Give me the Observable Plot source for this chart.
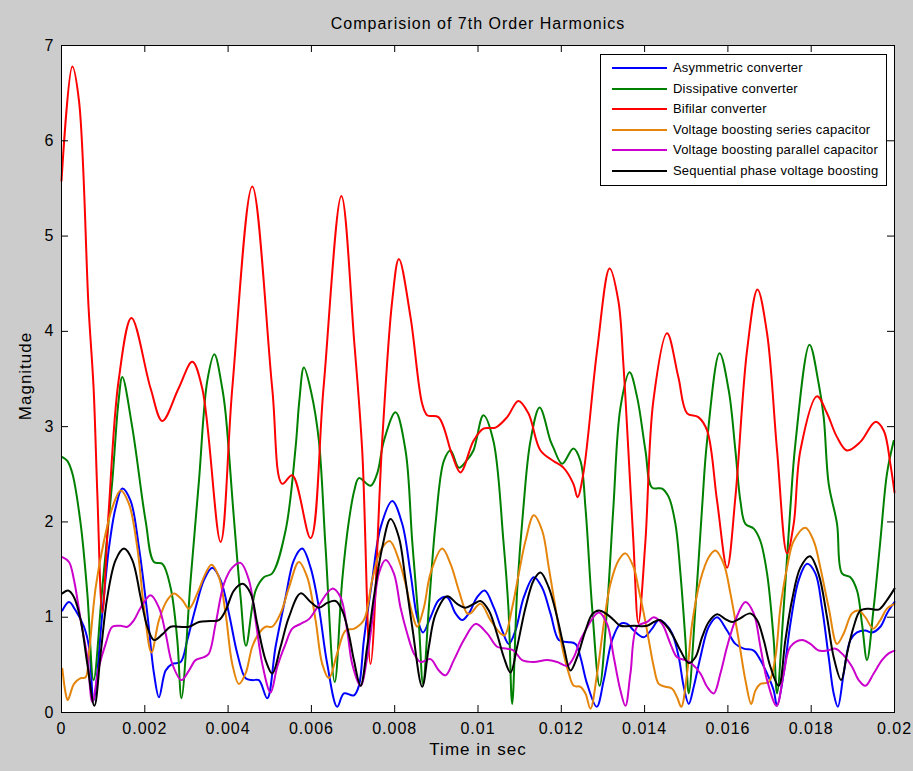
<!DOCTYPE html>
<html>
<head>
<meta charset="utf-8">
<script src="https://cdn.jsdelivr.net/npm/d3@7"></script>
<script src="https://cdn.jsdelivr.net/npm/@observablehq/plot@0.6"></script>
<style>
  html, body { margin: 0; padding: 0; background: #cccccc; }
  #wrap { position: relative; width: 913px; height: 771px; overflow: hidden; }
  #legend { position: absolute; left: 600px; top: 54px; width: 285px; height: 130px;
    background: #fff; border: 1px solid #000; font-family: "Liberation Sans", Arial, sans-serif; font-size: 13px; letter-spacing: 0.2px; }
  .row { position: absolute; left: 0; height: 20px; }
  .sw { position: absolute; left: 11px; width: 55px; height: 2px; top: 9px; }
  .lb { position: absolute; left: 72px; top: 2px; white-space: nowrap; color: #000; }
</style>
</head>
<body>
<div id="wrap"><div id="chart"></div><div id="legend"></div></div>
<script>
// Series names and colours
const seriesNames = ["Asymmetric converter", "Dissipative converter", "Bifilar converter",
  "Voltage boosting series capacitor", "Voltage boosting parallel capacitor", "Sequential phase voltage boosting"];
const seriesColors = ["#0000ff", "#008000", "#ff0000", "#e5850b", "#cc00cc", "#000000"];

// Times in milliseconds, magnitudes
const asymT = [0.02,0.18,0.34,0.54,0.66,0.77,0.98,1.14,1.30,1.46,1.66,1.86,2.06,2.22,2.34,2.50,2.66,2.86,3.02,3.22,3.42,3.62,3.82,4.02,4.22,4.42,4.58,4.74,4.94,5.14,5.38,5.58,5.78,5.98,6.18,6.38,6.62,6.78,7.02,7.14,7.26,7.46,7.66,7.94,8.18,8.38,8.54,8.68,8.86,9.06,9.26,9.46,9.62,9.78,9.98,10.16,10.38,10.58,10.74,10.90,11.10,11.34,11.54,11.74,11.94,12.14,12.34,12.46,12.62,12.85,13.02,13.22,13.42,13.58,13.74,13.98,14.18,14.34,14.50,14.66,14.82,14.94,15.06,15.18,15.34,15.54,15.74,15.98,16.18,16.38,16.62,16.78,16.94,17.10,17.18,17.34,17.50,17.70,17.90,18.10,18.26,18.42,18.54,18.64,18.78,18.94,19.10,19.30,19.46,19.66,19.82,20.00];
const asymV = [1.07,1.16,1.07,0.90,0.69,0.13,1.04,1.73,2.15,2.35,2.22,1.73,1.04,0.41,0.16,0.44,0.51,0.53,0.76,1.10,1.39,1.52,1.39,1.04,0.62,0.36,0.34,0.34,0.15,0.69,1.21,1.60,1.72,1.52,1.10,0.51,0.06,0.20,0.18,0.28,0.76,1.39,1.94,2.22,1.98,1.46,1.00,0.84,1.00,1.18,1.21,1.04,0.97,1.04,1.21,1.28,1.10,0.86,0.72,0.86,1.21,1.42,1.31,1.04,0.76,0.74,0.72,0.58,0.30,0.06,0.34,0.76,0.93,0.93,0.86,0.79,0.88,0.97,0.93,0.83,0.58,0.27,0.09,0.27,0.58,0.90,1.00,0.86,0.72,0.67,0.65,0.55,0.41,0.23,0.07,0.41,0.93,1.39,1.56,1.46,1.10,0.58,0.20,0.06,0.41,0.76,0.84,0.86,0.84,0.90,1.04,1.16];

const dissT = [0.02,0.14,0.26,0.46,0.62,0.77,0.98,1.22,1.37,1.46,1.70,2.02,2.22,2.42,2.62,2.78,2.88,3.10,3.30,3.50,3.67,3.86,3.94,4.13,4.30,4.43,4.66,4.86,5.06,5.38,5.62,5.71,5.82,6.00,6.18,6.34,6.56,6.74,6.90,7.03,7.14,7.42,7.58,7.74,8.02,8.26,8.42,8.58,8.68,8.82,8.98,9.18,9.34,9.54,9.72,9.89,10.13,10.37,10.61,10.73,10.82,10.94,11.09,11.26,11.48,11.74,11.81,12.02,12.29,12.46,12.58,12.74,12.92,13.10,13.25,13.42,13.64,13.82,14.02,14.18,14.42,14.58,14.74,14.86,14.98,15.06,15.22,15.38,15.50,15.80,16.02,16.18,16.30,16.42,16.62,16.78,16.94,17.10,17.18,17.34,17.50,17.62,17.96,18.18,18.30,18.42,18.62,18.74,18.94,19.10,19.22,19.34,19.50,19.66,19.82,19.98];
const dissV = [2.68,2.64,2.51,1.98,1.25,0.34,1.31,2.43,3.27,3.52,2.99,2.01,1.58,1.56,1.31,0.76,0.15,1.39,2.43,3.48,3.76,3.40,3.14,2.09,1.21,0.70,1.28,1.42,1.46,1.91,2.78,3.27,3.62,3.35,2.85,1.73,0.32,1.39,2.01,2.33,2.46,2.38,2.51,2.85,3.15,2.75,1.80,0.93,0.30,1.10,1.98,2.64,2.75,2.57,2.64,2.75,3.12,2.85,1.80,1.10,0.09,1.28,2.15,2.85,3.20,2.85,2.78,2.61,2.77,2.64,2.15,1.10,0.28,1.10,2.15,3.20,3.57,3.31,2.75,2.36,2.35,2.26,1.98,1.46,0.76,0.20,1.10,2.15,2.85,3.77,3.38,2.75,2.22,1.98,1.93,1.80,1.46,0.76,0.20,1.10,2.15,2.82,3.86,3.45,3.10,2.40,1.98,1.46,1.42,1.28,0.93,0.55,1.10,1.80,2.51,2.85];

const bifT = [0,0.26,0.42,0.65,0.77,0.86,0.98,1.13,1.37,1.68,2.14,2.42,2.81,3.14,3.38,3.82,4.10,4.58,5.06,5.30,5.54,5.98,6.29,6.72,7.03,7.22,7.42,7.70,7.94,8.10,8.38,8.66,8.78,9.05,9.38,9.58,9.89,10.13,10.42,10.70,10.97,11.21,11.50,11.81,12.05,12.29,12.39,12.53,12.86,13.16,13.37,13.49,13.61,13.73,13.85,14.02,14.21,14.54,14.81,15.02,15.29,15.50,15.74,15.98,16.18,16.46,16.71,16.94,17.18,17.42,17.58,17.74,18.14,18.38,18.62,18.86,19.18,19.54,19.74,19.90,20.00];
const bifV = [5.58,6.78,6.42,4.25,3.41,2.30,1.05,2.09,3.48,4.14,3.40,3.06,3.40,3.68,3.40,1.79,3.40,5.52,3.40,2.40,2.49,1.83,3.40,5.42,3.88,2.75,0.51,2.85,4.32,4.76,4.15,3.24,3.12,3.10,2.70,2.52,2.85,2.98,2.99,3.10,3.27,3.14,2.75,2.64,2.57,2.40,2.26,2.51,3.80,4.66,4.32,3.66,2.75,1.80,0.94,1.80,3.27,3.98,3.52,3.14,3.10,2.96,2.22,1.52,2.26,3.80,4.44,3.98,2.75,1.67,1.98,2.75,3.32,3.14,2.89,2.75,2.84,3.05,2.96,2.61,2.31];

const serT = [0.02,0.10,0.15,0.30,0.46,0.58,0.66,0.82,1.02,1.22,1.42,1.62,1.82,1.98,2.16,2.34,2.54,2.70,2.90,3.06,3.26,3.46,3.60,3.78,3.94,4.10,4.26,4.42,4.58,4.74,4.90,5.06,5.26,5.46,5.70,5.90,6.10,6.26,6.42,6.62,6.82,7.03,7.26,7.46,7.66,7.88,8.10,8.26,8.42,8.54,8.70,8.86,9.14,9.34,9.54,9.74,9.82,10.06,10.30,10.54,10.64,10.82,10.98,11.14,11.34,11.54,11.70,11.86,12.02,12.18,12.30,12.46,12.58,12.70,12.86,13.02,13.18,13.38,13.54,13.74,13.85,13.98,14.10,14.22,14.34,14.50,14.66,14.78,14.88,15.02,15.14,15.34,15.54,15.70,15.90,16.06,16.26,16.42,16.56,16.66,16.78,16.98,17.14,17.26,17.42,17.58,17.86,18.06,18.22,18.42,18.62,18.78,18.98,19.14,19.30,19.49,19.66,19.82,20.00];
const serV = [0.46,0.20,0.13,0.30,0.36,0.37,0.62,1.31,1.80,2.15,2.33,2.19,1.73,1.10,0.63,0.97,1.18,1.25,1.18,1.09,1.25,1.46,1.55,1.42,1.04,0.51,0.30,0.41,0.69,0.83,0.90,0.90,1.04,1.31,1.58,1.42,0.97,0.51,0.36,0.62,0.86,0.88,0.97,1.39,1.70,1.80,1.60,1.35,1.04,0.90,1.10,1.46,1.72,1.56,1.28,1.04,1.04,1.14,0.97,0.83,0.81,1.10,1.46,1.80,2.07,1.91,1.52,1.10,0.69,0.41,0.28,0.27,0.20,0.04,0.41,0.93,1.35,1.60,1.67,1.52,1.31,1.04,0.76,0.48,0.30,0.27,0.25,0.16,0.06,0.41,0.93,1.39,1.63,1.70,1.56,1.25,0.76,0.34,0.09,0.23,0.30,0.32,0.58,1.10,1.52,1.80,1.94,1.80,1.52,1.10,0.72,0.83,1.04,1.07,1.00,0.88,0.97,1.09,1.14];

const parT = [0.02,0.18,0.30,0.46,0.62,0.74,0.90,1.06,1.22,1.42,1.58,1.74,1.90,2.14,2.34,2.50,2.66,2.88,3.06,3.22,3.42,3.54,3.70,3.90,4.10,4.30,4.50,4.66,4.82,5.02,5.18,5.38,5.54,5.74,5.94,6.14,6.50,6.70,6.86,6.98,7.18,7.34,7.50,7.62,7.78,7.98,8.14,8.30,8.46,8.62,8.86,9.06,9.22,9.42,9.66,9.94,10.22,10.46,10.70,10.86,11.06,11.34,11.66,11.90,12.14,12.30,12.46,12.90,13.10,13.26,13.42,13.54,13.66,13.82,14.06,14.22,14.42,14.62,14.78,14.98,15.14,15.34,15.50,15.66,15.82,15.98,16.18,16.42,16.62,16.78,16.94,17.17,17.34,17.50,17.78,17.98,18.18,18.38,18.58,18.78,18.98,19.14,19.30,19.50,19.70,19.86,20.00];
const parV = [1.63,1.58,1.39,0.97,0.58,0.11,0.48,0.72,0.90,0.91,0.90,0.97,1.10,1.23,1.10,0.83,0.51,0.34,0.44,0.55,0.58,0.62,0.93,1.35,1.52,1.57,1.39,0.97,0.51,0.21,0.48,0.72,0.88,0.93,0.98,1.10,1.30,1.21,0.86,0.51,0.28,0.58,1.10,1.46,1.60,1.46,1.10,0.83,0.62,0.53,0.56,0.44,0.39,0.55,0.76,0.93,0.83,0.69,0.67,0.65,0.55,0.53,0.55,0.53,0.49,0.58,0.76,1.05,0.93,0.58,0.23,0.07,0.41,0.90,0.95,1.00,0.93,0.72,0.58,0.55,0.51,0.41,0.27,0.20,0.41,0.69,0.97,1.16,1.04,0.69,0.34,0.07,0.41,0.69,0.76,0.72,0.65,0.65,0.67,0.60,0.48,0.34,0.28,0.41,0.55,0.62,0.65];

const seqT = [0.02,0.16,0.30,0.46,0.62,0.79,0.94,1.10,1.30,1.50,1.70,1.90,2.06,2.22,2.42,2.62,2.82,3.06,3.30,3.58,3.78,3.94,4.14,4.35,4.54,4.70,4.90,5.06,5.26,5.46,5.74,5.98,6.18,6.38,6.58,6.74,6.90,7.02,7.18,7.34,7.50,7.70,7.90,8.10,8.26,8.42,8.66,8.82,8.98,9.26,9.50,9.70,9.90,10.06,10.26,10.46,10.62,10.78,10.94,11.14,11.34,11.50,11.70,11.90,12.06,12.22,12.38,12.58,12.74,12.90,13.10,13.26,13.42,13.74,14.06,14.22,14.36,14.54,14.70,14.86,15.06,15.22,15.38,15.54,15.74,15.94,16.10,16.26,16.54,16.70,16.86,17.02,17.22,17.38,17.54,17.74,17.97,18.18,18.38,18.54,18.72,18.86,19.02,19.18,19.38,19.62,19.82,20.00];
const seqV = [1.25,1.28,1.21,0.97,0.51,0.07,0.62,1.21,1.60,1.72,1.60,1.21,0.90,0.76,0.82,0.90,0.90,0.90,0.95,0.96,0.97,1.07,1.28,1.35,1.25,0.93,0.55,0.41,0.69,1.00,1.25,1.16,1.10,1.15,1.17,1.07,0.82,0.55,0.28,0.69,1.21,1.73,2.03,1.84,1.39,0.90,0.27,0.69,1.03,1.22,1.14,1.10,1.14,1.17,1.07,0.82,0.58,0.42,0.69,1.10,1.39,1.47,1.31,1.00,0.69,0.44,0.58,0.86,1.03,1.07,1.03,0.97,0.91,0.91,0.91,0.95,0.97,0.90,0.79,0.65,0.52,0.58,0.79,0.95,1.03,0.98,0.95,0.98,1.04,0.97,0.76,0.48,0.28,0.76,1.18,1.52,1.64,1.45,1.00,0.58,0.34,0.62,0.90,1.07,1.09,1.08,1.18,1.30];

const xTicks = [0, 0.002, 0.004, 0.006, 0.008, 0.01, 0.012, 0.014, 0.016, 0.018, 0.02];
const yTicks = [0, 1, 2, 3, 4, 5, 6, 7];

const seriesT = [asymT, dissT, bifT, serT, parT, seqT];
const seriesV = [asymV, dissV, bifV, serV, parV, seqV];
const data = [];
seriesNames.forEach((name, i) => {
  seriesT[i].forEach((t, j) => data.push({series: name, t: t / 1000, v: seriesV[i][j]}));
});

const W = 913, H = 771, mL = 61, mR = 19, mT = 45, mB = 59;
const innerW = W - mL - mR, innerH = H - mT - mB;
const tick = 7;

const chart = Plot.plot({
  width: W, height: H,
  marginLeft: mL, marginRight: mR, marginTop: mT, marginBottom: mB,
  style: {background: "#cccccc", fontFamily: "'Liberation Sans', Arial, sans-serif", fontSize: "16px", color: "#000", letterSpacing: "1px"},
  x: {domain: [0, 0.02], ticks: xTicks, label: null},
  y: {domain: [0, 7], ticks: yTicks, label: null},
  color: {domain: seriesNames, range: seriesColors},
  marks: [
    Plot.frame({fill: "white", stroke: null}),
    Plot.line(data, {x: "t", y: "v", z: "series", stroke: "series", strokeWidth: 2, curve: "catmull-rom"}),
    Plot.tickX(xTicks, {x: d => d, insetTop: innerH - tick, stroke: "#000"}),
    Plot.tickX(xTicks, {x: d => d, insetBottom: innerH - tick, stroke: "#000"}),
    Plot.tickY(yTicks, {y: d => d, insetRight: innerW - tick, stroke: "#000"}),
    Plot.tickY(yTicks, {y: d => d, insetLeft: innerW - tick, stroke: "#000"}),
    Plot.frame({stroke: "#000", strokeWidth: 1}),
    Plot.axisX(xTicks, {tickSize: 0, tickPadding: 10, tickFormat: d => String(+d.toFixed(3)), label: null, fontSize: 16}),
    Plot.axisY(yTicks, {tickSize: 0, tickPadding: 7, tickFormat: d => String(d), label: null, fontSize: 16}),
    Plot.text(["Comparision of 7th Order Harmonics"], {frameAnchor: "top", lineAnchor: "middle", textAnchor: "middle", dy: -22, fontSize: 16, fill: "#000"}),
    Plot.text(["Time in sec"], {frameAnchor: "bottom", lineAnchor: "middle", textAnchor: "middle", dy: 37, fontSize: 17, fill: "#000"}),
    Plot.text(["Magnitude"], {frameAnchor: "left", lineAnchor: "middle", textAnchor: "middle", dx: -36, dy: -3, rotate: -90, fontSize: 17, fill: "#000"})
  ]
});
document.getElementById("chart").appendChild(chart);

const legend = document.getElementById("legend");
seriesNames.forEach((name, i) => {
  const row = document.createElement("div");
  row.className = "row";
  row.style.top = (3 + i * 20.6) + "px";
  row.innerHTML = `<div class="sw" style="background:${seriesColors[i]}"></div><div class="lb">${name}</div>`;
  legend.appendChild(row);
});
</script>
</body>
</html>
